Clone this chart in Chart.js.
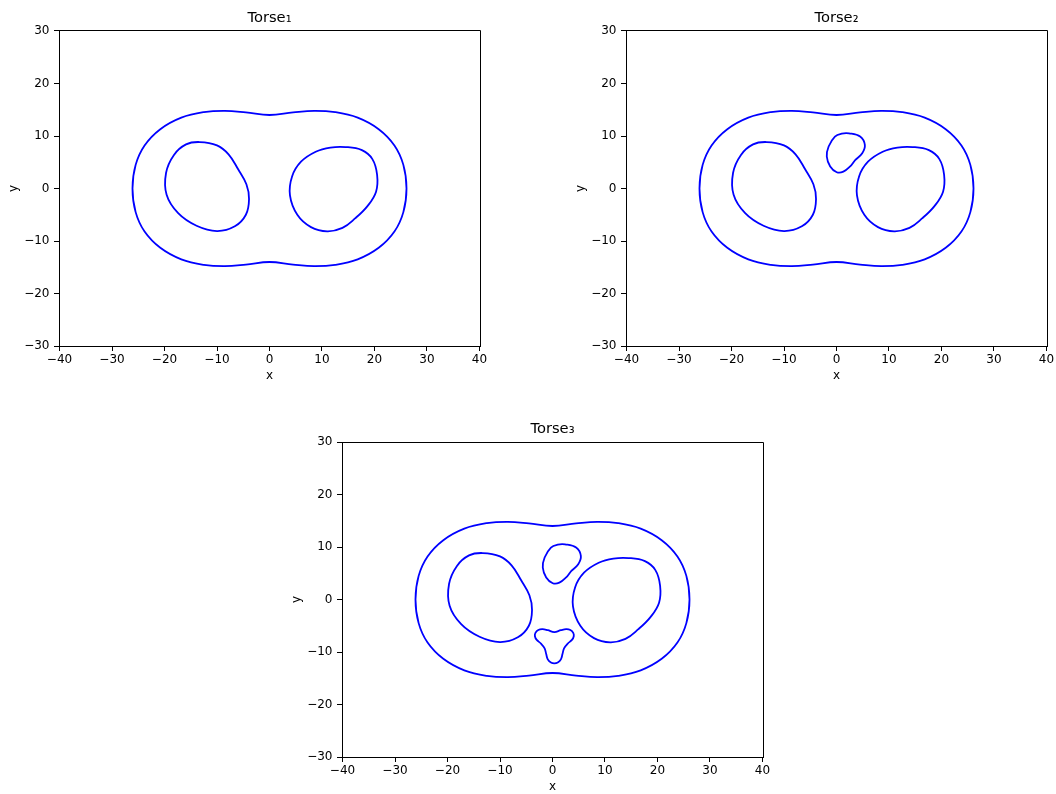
<!DOCTYPE html>
<html><head><meta charset="utf-8">
<script src="https://cdn.jsdelivr.net/npm/chart.js@4.4.1/dist/chart.umd.min.js"></script>
<style>
html,body{margin:0;padding:0;background:#fff;}
body{width:1056px;height:794px;overflow:hidden;position:relative;}
canvas{position:absolute;}
</style></head><body>
<canvas id="c1"></canvas><canvas id="c2"></canvas><canvas id="c3"></canvas>
<script>
// ---- data ----
const xTicks = [-40, -30, -20, -10, 0, 10, 20, 30, 40];
const yTicks = [-30, -20, -10, 0, 10, 20, 30];
const xLimits = [-40.1, 40.1];
const yLimits = [-30, 30];
const titles = ['Torse\u2081', 'Torse\u2082', 'Torse\u2083'];
const xLabel = 'x';
const yLabel = 'y';

const outerPts = [[26.1,0],[25.5,4.5],[23.8,8.2],[20.8,11.3],[16.8,13.5],[12.5,14.55],[8.5,14.8],[4.5,14.5],[0,14.0],
  [-4.5,14.5],[-8.5,14.8],[-12.5,14.55],[-16.8,13.5],[-20.8,11.3],[-23.8,8.2],[-25.5,4.5],[-26.1,0],
  [-25.5,-4.5],[-23.8,-8.2],[-20.8,-11.3],[-16.8,-13.5],[-12.5,-14.55],[-8.5,-14.8],[-4.5,-14.5],[0,-14.0],
  [4.5,-14.5],[8.5,-14.8],[12.5,-14.55],[16.8,-13.5],[20.8,-11.3],[23.8,-8.2],[25.5,-4.5]];

const leftLungPts = [[-13.3,8.85],[-10.0,8.2],[-7.8,6.5],[-6.0,3.7],[-4.4,0.8],[-3.9,-2.0],[-4.5,-5.0],[-6.6,-7.2],[-10.0,-8.1],[-13.9,-7.1],[-17.4,-4.7],[-19.6,-1.2],[-19.7,3.0],[-18.2,6.4],[-15.9,8.4]];

const rightLungPts = [[14.5,7.9],[17.6,7.3],[19.6,5.6],[20.5,2.6],[20.3,-0.6],[18.7,-3.3],[16.3,-5.7],[13.9,-7.5],[11.0,-8.15],[7.9,-7.35],[5.3,-5.0],[3.9,-1.3],[4.3,2.3],[6.0,5.1],[8.8,7.0],[11.6,7.8]];

const heartPts = [[-0.3,9.9],[1.0,10.45],[2.4,10.5],[4.5,9.9],[5.4,8.3],[4.9,6.7],[3.6,5.45],[2.6,4.2],[1.3,3.2],[0.05,3.1],[-1.2,4.2],[-1.85,6.1],[-1.5,8.0]];

const triPts = [[0.35,-6.2],[1.6,-5.85],[2.6,-5.65],[3.4,-5.8],[3.95,-6.35],[4.05,-7.0],[3.7,-7.7],[2.9,-8.4],[2.2,-9.3],[1.9,-10.4],[1.6,-11.4],[1.0,-12.0],[0.35,-12.15],
  [-0.3,-12.0],[-0.9,-11.4],[-1.2,-10.4],[-1.5,-9.3],[-2.2,-8.4],[-3.0,-7.7],[-3.35,-7.0],[-3.25,-6.35],[-2.7,-5.8],[-1.9,-5.65],[-0.9,-5.85]];

const panelShapes = [
  [outerPts, leftLungPts, rightLungPts],
  [outerPts, leftLungPts, rightLungPts, heartPts],
  [outerPts, leftLungPts, rightLungPts, heartPts, triPts]
];

// ---- layout (page pixels) ----
const layouts = [
  {id:'c1', cx:0,   cy:0,   cw:520, ch:395, L:59,  T:31,  R:480,  B:346, xt:376,   yt:14},
  {id:'c2', cx:560, cy:0,   cw:496, ch:395, L:626, T:31,  R:1047, B:346, xt:376,   yt:581},
  {id:'c3', cx:283, cy:405, cw:500, ch:389, L:342, T:442, R:763,  B:757, xt:786.7, yt:297.3}
];

const FONT = "'DejaVu Sans', sans-serif";
Chart.defaults.font.family = FONT;
Chart.defaults.color = '#000';

const fmt = v => String(v).replace('-', '\u2212');
const alignPx = p => Math.round(p + 0.5) - 0.5;

const boxPlugin = {
  id: 'boxPlugin',
  afterDraw(chart) {
    const a = chart.chartArea, c = chart.ctx;
    const l = alignPx(a.left), t = alignPx(a.top), r = alignPx(a.right), b = alignPx(a.bottom);
    c.save();
    c.strokeStyle = '#000';
    c.lineWidth = 1;
    c.beginPath();
    c.moveTo(l, t); c.lineTo(r, t); c.lineTo(r, b);
    c.stroke();
    c.restore();
  }
};

function closedData(pts) {
  const n = pts.length;
  const seq = [pts[n - 1], ...pts, pts[0], pts[1]];
  return seq.map(p => ({x: p[0], y: p[1]}));
}

layouts.forEach((lay, i) => {
  const cv = document.getElementById(lay.id);
  cv.width = lay.cw; cv.height = lay.ch;
  cv.style.left = lay.cx + 'px'; cv.style.top = lay.cy + 'px';
  cv.style.width = lay.cw + 'px'; cv.style.height = lay.ch + 'px';
  const lh = 12 * 1.2;
  const datasets = panelShapes[i].map(pts => {
    const data = closedData(pts);
    const N = data.length;
    return {
      data,
      showLine: true,
      borderColor: '#0000ff',
      borderWidth: 1.8,
      pointRadius: 0,
      pointHoverRadius: 0,
      fill: false,
      tension: 0.4,
      segment: {
        borderColor: ctx => (ctx.p0DataIndex === 0 || ctx.p0DataIndex === N - 2) ? 'rgba(0,0,0,0)' : undefined
      }
    };
  });
  const topSpace = lay.T - lay.cy;
  new Chart(cv, {
    type: 'scatter',
    data: { datasets },
    plugins: [boxPlugin],
    options: {
      responsive: false,
      animation: false,
      devicePixelRatio: 1,
      events: [],
      layout: { padding: { left: 0, top: 0, right: (lay.cx + lay.cw) - lay.R, bottom: (lay.cy + lay.ch) - (lay.xt + lh / 2) } },
      plugins: {
        legend: { display: false },
        tooltip: { enabled: false },
        title: {
          display: true,
          text: titles[i],
          fullSize: false,
          color: '#000',
          font: { family: FONT, size: 14.7, weight: 'normal', lineHeight: 1.2 },
          padding: { top: topSpace - 21.62, bottom: 3.98 }
        }
      },
      scales: {
        x: {
          type: 'linear',
          position: 'bottom',
          min: xLimits[0], max: xLimits[1],
          afterBuildTicks: s => { s.ticks = xTicks.map(v => ({value: v})); },
          afterFit: s => { s.height = (lay.xt + lh / 2) - lay.B; },
          ticks: { callback: v => fmt(v), font: { family: FONT, size: 12 }, color: '#000', padding: 1.5, maxRotation: 0, autoSkip: false },
          grid: { drawOnChartArea: false, drawTicks: true, tickLength: 5, color: '#000', lineWidth: 1 },
          border: { display: true, color: '#000', width: 1 },
          title: { display: true, text: xLabel, color: '#000', font: { family: FONT, size: 12 }, padding: { top: 0, bottom: 0 } }
        },
        y: {
          type: 'linear',
          position: 'left',
          min: yLimits[0], max: yLimits[1],
          afterBuildTicks: s => { s.ticks = yTicks.map(v => ({value: v})); },
          afterFit: s => { s.width = lay.L - lay.cx; },
          ticks: { callback: v => fmt(v), font: { family: FONT, size: 12 }, color: '#000', padding: 4.5, autoSkip: false },
          grid: { drawOnChartArea: false, drawTicks: true, tickLength: 5, color: '#000', lineWidth: 1 },
          border: { display: true, color: '#000', width: 1 },
          title: { display: true, text: yLabel, color: '#000', font: { family: FONT, size: 12 }, padding: { top: lay.yt - lay.cx - lh / 2, bottom: 0 } }
        }
      }
    }
  });
});
</script>
</body></html>
